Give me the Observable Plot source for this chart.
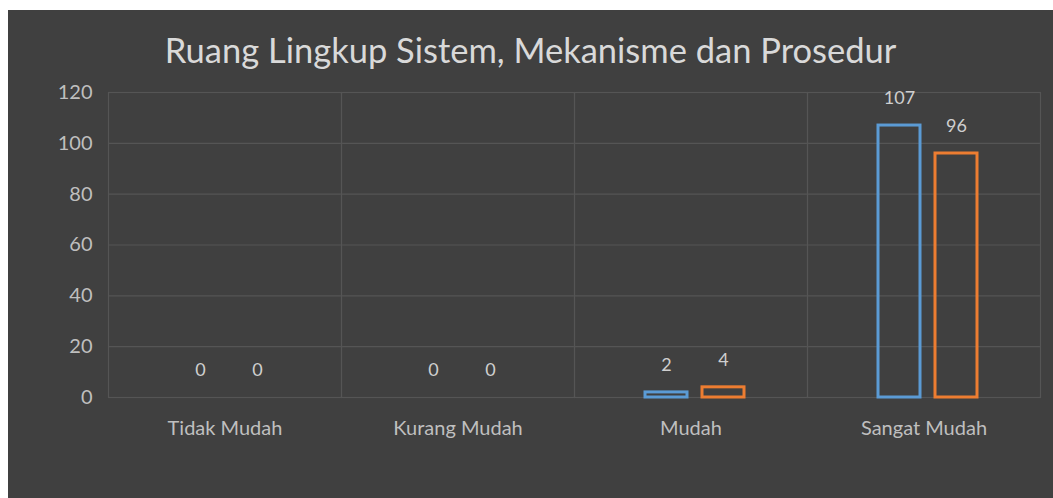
<!DOCTYPE html>
<html>
<head>
<meta charset="utf-8">
<script src="https://cdn.jsdelivr.net/npm/d3@7"></script>
<script src="https://cdn.jsdelivr.net/npm/@observablehq/plot@0.6"></script>
<style>
  html, body { margin: 0; padding: 0; background: #ffffff; }
  #panel {
    position: absolute; left: 8px; top: 10px; width: 1045px; height: 488px;
    background: #404040; overflow: hidden;
  }
  #title {
    position: absolute; left: 0; top: 21px; width: 100%; text-align: center;
    font-family: Lato, "Open Sans", sans-serif; font-size: 34.5px; line-height: 38px;
    color: #d9d9d9;
  }
  #chart { position: absolute; left: 0; top: 70px; }
</style>
</head>
<body>
<div id="panel">
  <div id="title">Ruang Lingkup Sistem, Mekanisme dan Prosedur</div>
  <div id="chart"></div>
</div>
<script>
const categories = ["Tidak Mudah", "Kurang Mudah", "Mudah", "Sangat Mudah"];
const seriesNames = ["Seri 1", "Seri 2"];
const series1 = [0, 0, 2, 107];
const series2 = [0, 0, 4, 96];
const yTicks = [0, 20, 40, 60, 80, 100, 120];
const seriesColors = ["#5b9bd5", "#ed7d31"];

const data = [];
categories.forEach((c, i) => {
  data.push({category: c, series: seriesNames[0], value: series1[i]});
  data.push({category: c, series: seriesNames[1], value: series2[i]});
});

const chart = Plot.plot({
  width: 1045,
  height: 418,
  marginLeft: 99,
  marginRight: 13,
  marginTop: 12,
  marginBottom: 101,
  style: {
    background: "transparent",
    fontFamily: "Lato, 'Open Sans', sans-serif",
    fontSize: "20px",
    color: "#bfbfbf"
  },
  fx: {domain: categories, padding: 0, label: null, axis: "bottom", tickSize: 0, tickPadding: 23, fontSize: 22},
  x: {domain: seriesNames, paddingInner: 0.27, paddingOuter: 1.17, align: 0.525, axis: null},
  y: {domain: [0, 120], ticks: yTicks, label: null, tickSize: 0, tickPadding: 16},
  color: {domain: seriesNames, range: seriesColors},
  marks: [
    Plot.gridY(yTicks.slice(1, -1), {stroke: "#555555", strokeOpacity: 1, strokeWidth: 1.2}),
    Plot.frame({stroke: "#555555", strokeWidth: 1.2}),
    Plot.barY(data, {
      fx: "category", x: "series", y: "value",
      fill: "none", stroke: "series", strokeWidth: 3
    }),
    Plot.text(data, {
      fx: "category", x: "series", y: "value", text: d => String(d.value),
      dy: -27, fill: "#cfcfcf", fontSize: 18
    })
  ]
});
document.getElementById("chart").appendChild(chart);
</script>
</body>
</html>
